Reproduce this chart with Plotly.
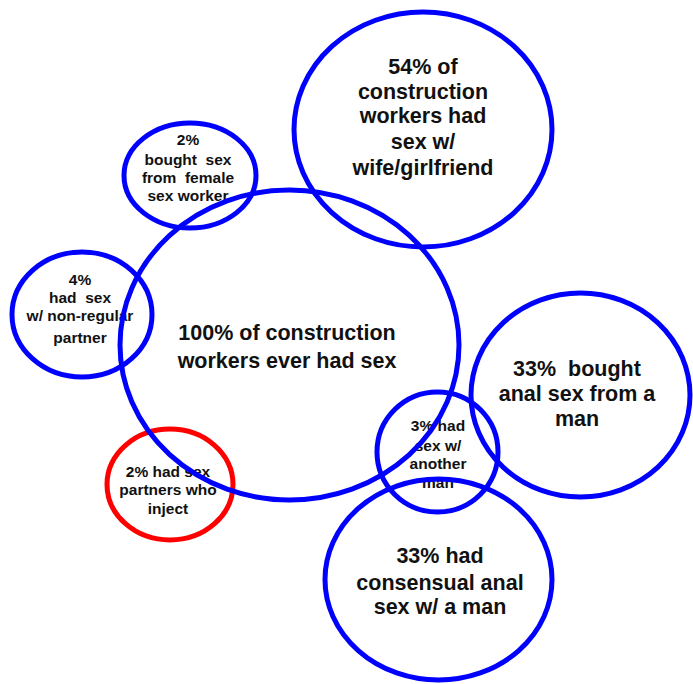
import plotly.graph_objects as go

# ---- data ----
labels = [
    "2% had sex<br>partners who<br>inject",
    "100% of construction<br>workers ever had sex",
    "54% of<br>construction<br>workers had<br>sex w/<br>wife/girlfriend",
    "2%<br>bought&nbsp; sex<br>from&nbsp; female<br>sex worker",
    "4%<br>had&nbsp; sex<br>w/ non-regular<br>partner",
    "3% had<br>sex w/<br>another<br>man",
    "33%&nbsp; bought<br>anal sex from a<br>man",
    "33% had<br>consensual anal<br>sex w/ a man",
]
percentages = [2, 100, 54, 2, 4, 3, 33, 33]

# ---- layout geometry (page-pixel data coordinates) ----
centers_x = [170, 289.5, 423, 190, 82, 437.5, 580.5, 438.5]
centers_y = [484.5, 345, 129.5, 175.5, 314.5, 452, 395, 579.5]
radii_x = [63, 169.5, 129, 66, 70, 60.5, 109.5, 113.5]
radii_y = [55.5, 155, 117.5, 52.5, 62.5, 60, 102, 100.5]
text_x = [168, 287, 423, 188, 80, 438, 577, 440]
line_y = [
    [471, 489, 508],
    [332, 360],
    [66, 91, 115, 141, 167],
    [139, 159, 177, 195],
    [279, 297, 315, 337],
    [425, 445, 463, 482],
    [368, 393, 418],
    [555, 582, 606],
]
font_sizes = [15.5, 21.5, 21.5, 15.5, 15.5, 15.5, 21.5, 21.5]
edge_colors = ["#FF0000", "#0000FF", "#0000FF", "#0000FF", "#0000FF", "#0000FF", "#0000FF", "#0000FF"]

W, H = 693, 684

fig = go.Figure()

for lab, tx, ys, fs in zip(labels, text_x, line_y, font_sizes):
    lines = lab.split("<br>")
    shift = 3 if fs > 18 else 2
    fig.add_trace(go.Scatter(
        x=[tx] * len(lines), y=[v + shift for v in ys], mode="text", text=lines,
        textposition="middle center",
        textfont=dict(family="Liberation Sans, Arial, sans-serif", size=fs, color="#111111", weight="bold"),
        hoverinfo="skip", showlegend=False,
    ))

for cx, cy, rx, ry, col in zip(centers_x, centers_y, radii_x, radii_y, edge_colors):
    fig.add_shape(type="circle", xref="x", yref="y",
                  x0=cx - rx, x1=cx + rx, y0=cy - ry, y1=cy + ry,
                  line=dict(color=col, width=5), fillcolor="rgba(0,0,0,0)", layer="above")

fig.update_layout(
    width=W, height=H,
    margin=dict(l=0, r=0, t=0, b=0),
    paper_bgcolor="white", plot_bgcolor="white",
    xaxis=dict(range=[0, W], visible=False, fixedrange=True),
    yaxis=dict(range=[H, 0], visible=False, fixedrange=True),
    showlegend=False,
)

fig.write_html(
    "out.html",
    config={"displayModeBar": False},
    post_script="document.body.style.margin='0';document.body.style.overflow='hidden';",
)
